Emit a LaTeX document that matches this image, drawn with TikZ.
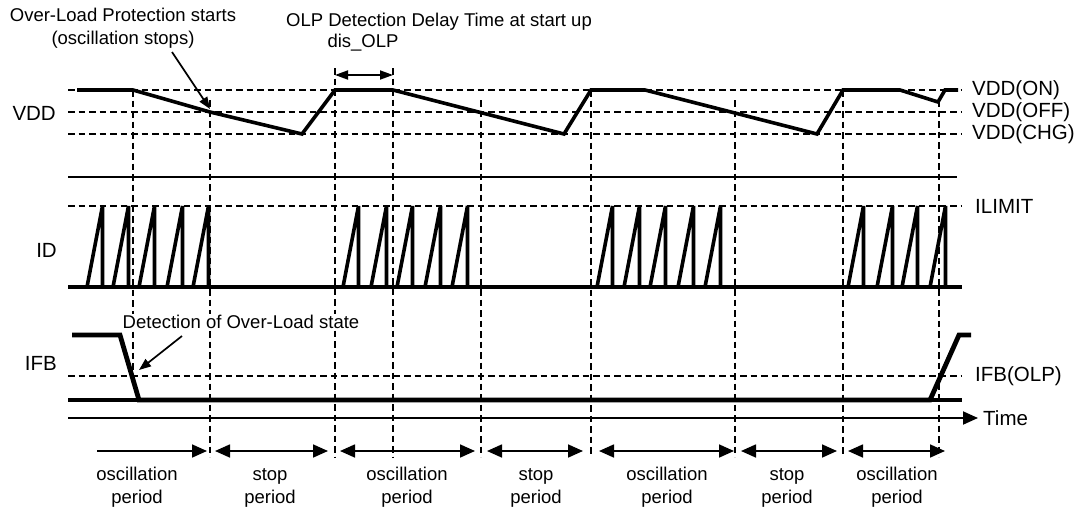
\documentclass[tikz,border=0pt]{standalone}
\usepackage{fontspec}
\setmainfont{Liberation Sans}
\usetikzlibrary{arrows.meta}
\begin{document}
\begin{tikzpicture}[x=1pt,y=-1pt,
  lbl/.style={font=\fontsize{20.5}{24}\selectfont, inner sep=0pt},
  ann/.style={font=\fontsize{18.5}{23}\selectfont, inner sep=0pt, align=center},
  guide/.style={line width=1.4pt, dash pattern=on 6.5pt off 4pt},
  sig/.style={line width=3.6pt, line join=miter},
  thicksig/.style={line width=4.8pt, line join=miter},
  base/.style={line width=3.4pt},
  period/.style={line width=1.7pt, {Triangle[length=15pt,width=13pt]}-{Triangle[length=15pt,width=13pt]}},
  periodr/.style={line width=1.7pt, -{Triangle[length=15pt,width=13pt]}},
  pointer/.style={line width=1.7pt, -{Triangle[length=12pt,width=9pt]}},
  delay/.style={line width=1.8pt, {Triangle[length=13pt,width=9pt]}-{Triangle[length=13pt,width=9pt]}}
]
\useasboundingbox (0,0) rectangle (1085,512);

% horizontal guides
\foreach \yy in {90,112,134,206,376}
  \draw[guide] (68,\yy) -- (962,\yy);

% vertical guides
\draw[guide] (133,90) -- (133,376);
\foreach \xx/\yt in {210/100,335/68,393/68,481/100,591/90,735/100,843/90,939/100}
  \draw[guide] (\xx,\yt) -- (\xx,457);

% separator under VDD
\draw[line width=2.4pt] (68,177) -- (957,177);

% VDD waveform
\draw[sig] (77,90) -- (133,90) -- (210,112) -- (302,134) -- (335,90) -- (393,90)
  -- (564,134) -- (591,90) -- (645,90) -- (817,134) -- (843,90) -- (900,90)
  -- (938,102) -- (945,90) -- (958,90);

% ID baseline and pulses
\draw[base] (68,287) -- (962,287);
\foreach \s in {87,113,139,167,193,343,371,397,425,452,597,624,650,678,705,848,877,902,930}
  \draw[sig] (\s,287) -- (\s+15.5,206) -- (\s+15.5,287);

% IFB baseline and waveform
\draw[base] (68,400) -- (962,400);
\draw[thicksig] (72,335) -- (120,335) -- (139,400) -- (930,400) -- (959,335) -- (971,335);

% Time axis
\coordinate (t0) at (68,418);
\coordinate (t1) at (978,418);
\draw[line width=1.9pt, -{Triangle[length=15pt,width=13pt]}] (t0) -- (t1);
\node[lbl, anchor=west] (time) at (983,418) {Time};

% left labels
\node[lbl, anchor=east] (vdd) at (56,113) {VDD};
\node[lbl, anchor=east] (id) at (57,250) {ID};
\node[lbl, anchor=east] (ifb) at (57,363) {IFB};

% right labels
\node[lbl, anchor=west] (von) at (972,90) {VDD(ON)};
\node[lbl, anchor=west] (voff) at (972,112) {VDD(OFF)};
\node[lbl, anchor=west] (vchg) at (972,134) {VDD(CHG)};
\node[lbl, anchor=west] (ilim) at (975,206) {ILIMIT};
\node[lbl, anchor=west] (ifbolp) at (975,376) {IFB(OLP)};

% top annotations
\node[ann] (olp) at (123,28.5) {Over-Load Protection starts\\(oscillation stops)};
\coordinate (olpfrom) at (172,52);
\coordinate (olpto) at (210,109);
\draw[pointer] (olpfrom) -- (olpto);

\node[ann] (delay) at (439,22) {OLP Detection Delay Time at start up};
\node[ann] (dis) at (363,43) {dis\_OLP};
\coordinate (d0) at (335,75);
\coordinate (d1) at (393,75);
\draw[delay] (d0) -- (d1);

% detection annotation
\node[ann, fill=white, inner sep=1.5pt] (det) at (241,322) {Detection of Over-Load state};
\coordinate (detfrom) at (182,336);
\coordinate (detto) at (139,370);
\draw[pointer] (detfrom) -- (detto);

% bottom period arrows
\coordinate (p0a) at (97,451);  \coordinate (p0b) at (207,451);
\draw[periodr] (p0a) -- (p0b);
\foreach \a/\b [count=\i] in {215/328,340/475,487/583,599/734,741/837,848/945}{
  \coordinate (pa\i) at (\a,451);
  \coordinate (pb\i) at (\b,451);
  \draw[period] (pa\i) -- (pb\i);
}

\node[ann] (l1) at (137,487.5) {oscillation\\period};
\node[ann] (l2) at (270,487.5) {stop\\period};
\node[ann] (l3) at (407,487.5) {oscillation\\period};
\node[ann] (l4) at (536,487.5) {stop\\period};
\node[ann] (l5) at (667,487.5) {oscillation\\period};
\node[ann] (l6) at (787,487.5) {stop\\period};
\node[ann] (l7) at (897,487.5) {oscillation\\period};
\end{tikzpicture}
\end{document}
